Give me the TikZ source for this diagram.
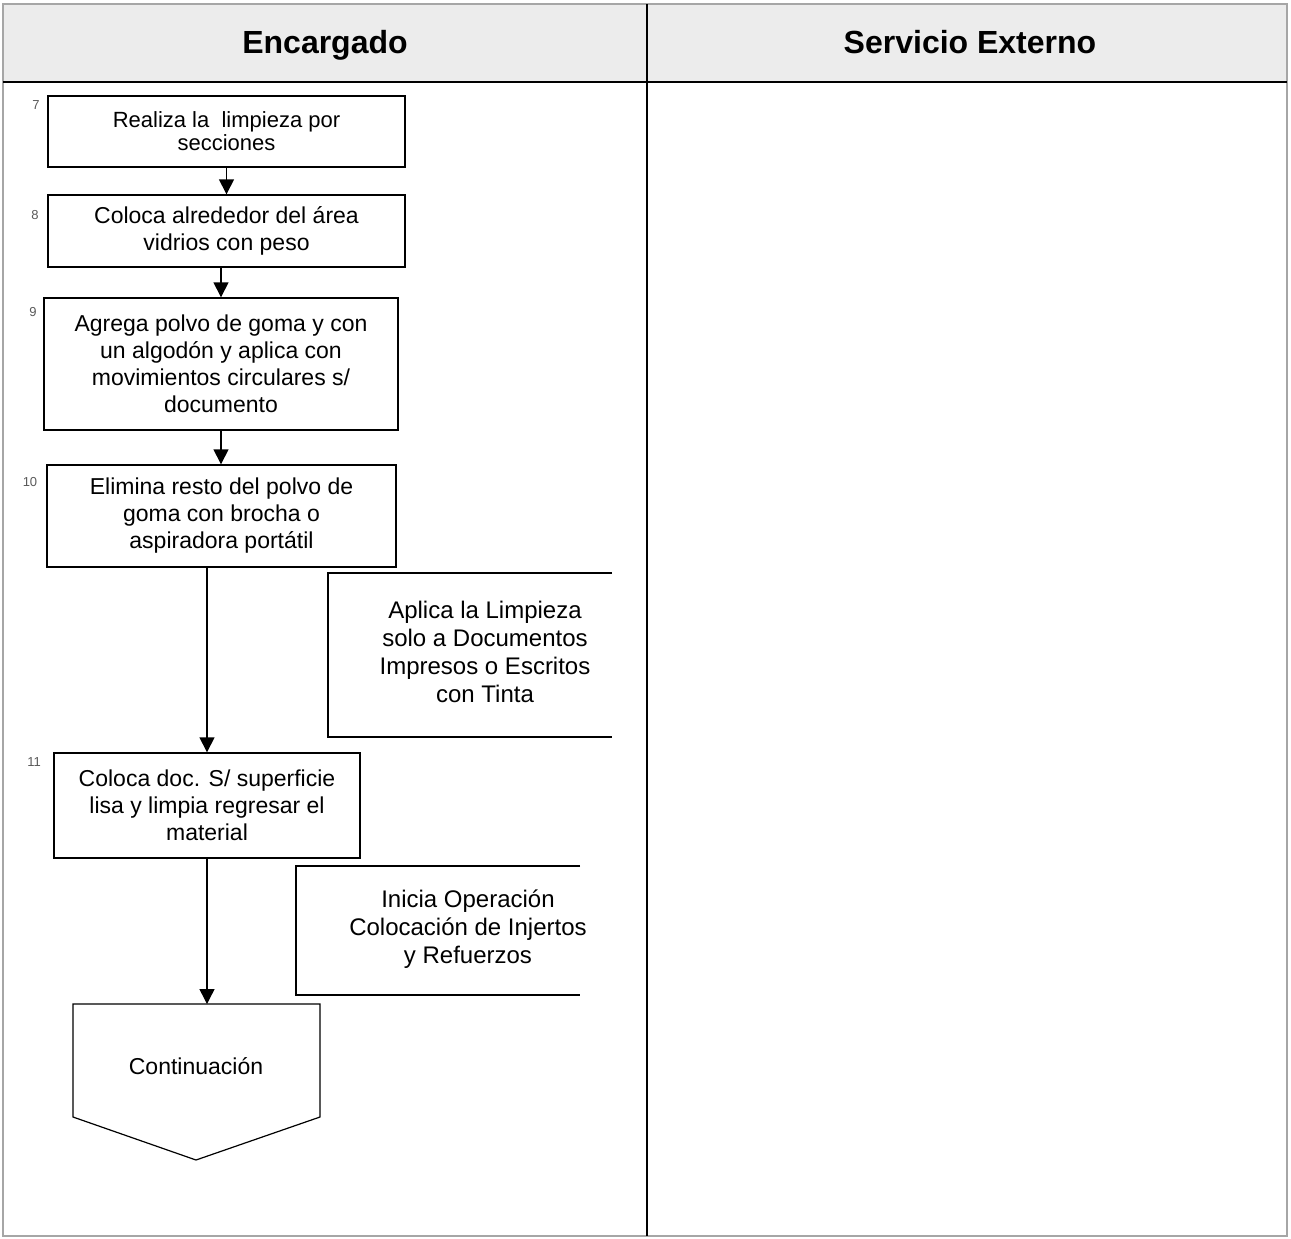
\documentclass[tikz,border=0pt]{standalone}
\usepackage{fontspec}
\setmainfont{Liberation Sans}
\usetikzlibrary{arrows.meta, calc}

\tikzset{
  paso/.style={draw, line width=0.7pt, align=center, inner sep=2pt, font=\fontsize{11.5}{13.5}\selectfont},
  nota/.style={align=center, font=\fontsize{12}{14}\selectfont},
  num/.style={font=\fontsize{6.5}{7}\selectfont, text=black!65},
  titulo/.style={font=\bfseries\fontsize{16}{18}\selectfont, text height=2ex, text depth=0.6ex},
  flecha/.style={-{Triangle[length=7.5pt,width=7.5pt]}, line width=0.7pt},
}

\begin{document}
\begin{tikzpicture}[x=0.5pt, y=-0.5pt]
    \useasboundingbox (0,0) rectangle (1291,1238);

    % Lanes and header
    \fill[gray!15] (3,4) rectangle (1287,82);
    \draw[gray!70, line width=0.6pt] (3,4) rectangle (1287,1236);
    \draw[line width=0.8pt] (3,82) -- (1287,82);
    \draw[line width=1pt] (647,4) -- (647,1236);
    \node[titulo] (encargado) at (325,46) {Encargado};
    \node[titulo] (externo) at (970,46) {Servicio Externo};

    % Steps of the Encargado
    \node[paso, minimum width=178.5pt, minimum height=35.5pt, font=\fontsize{11}{11.5}\selectfont] (p7) at (226.5,131.5) {Realiza la \ limpieza por\\secciones};
    \node[paso, minimum width=178.5pt, minimum height=36pt] (p8) at (226.5,231) {Coloca alrededor del área\\vidrios con peso};
    \node[paso, minimum width=177pt, minimum height=66pt] (p9) at (221,364) {Agrega polvo de goma y con\\un algodón y aplica con\\movimientos circulares s/\\documento};
    \node[paso, minimum width=174.5pt, minimum height=51pt] (p10) at (221.5,516) {Elimina resto del polvo de\\goma con brocha o\\aspiradora portátil};
    \node[paso, minimum width=153pt, minimum height=52.5pt] (p11) at (207,805.5) {Coloca doc. S/ superficie\\lisa y limpia regresar el\\material};

    % Step numbers
    \node[num] (n7) at (36,105) {7};
    \node[num] (n8) at (35,215) {8};
    \node[num] (n9) at (33,312) {9};
    \node[num] (n10) at (30,482) {10};
    \node[num] (n11) at (34,762) {11};

    % Notes
    \draw[line width=0.6pt] (612,573) -- (328,573) -- (328,737) -- (612,737);
    \node[nota] (nota1) at (485,651.5) {Aplica la Limpieza\\solo a Documentos\\Impresos o Escritos\\con Tinta};
    \draw[line width=0.6pt] (580,866) -- (296,866) -- (296,995) -- (580,995);
    \node[nota] (nota2) at (468,929) {Inicia Operación\\Colocación de Injertos\\y Refuerzos};

    % Off-page connector
    \coordinate (contTop) at (207,1004);
    \draw[line width=0.6pt] (73,1004) -- (320,1004) -- (320,1117) -- (196,1160) -- (73,1117) -- cycle;
    \node[font=\fontsize{11.5}{13.5}\selectfont] (cont) at (196,1066) {Continuación};

    % Flow
    \draw[flecha] (p7.south) -- (p8.north);
    \draw[flecha] (p8.south -| p9.north) -- (p9.north);
    \draw[flecha] (p9.south) -- (p9.south |- p10.north);
    \draw[flecha] (p10.south -| p11.north) -- (p11.north);
    \draw[flecha] (p11.south) -- (contTop);
\end{tikzpicture}
\end{document}
